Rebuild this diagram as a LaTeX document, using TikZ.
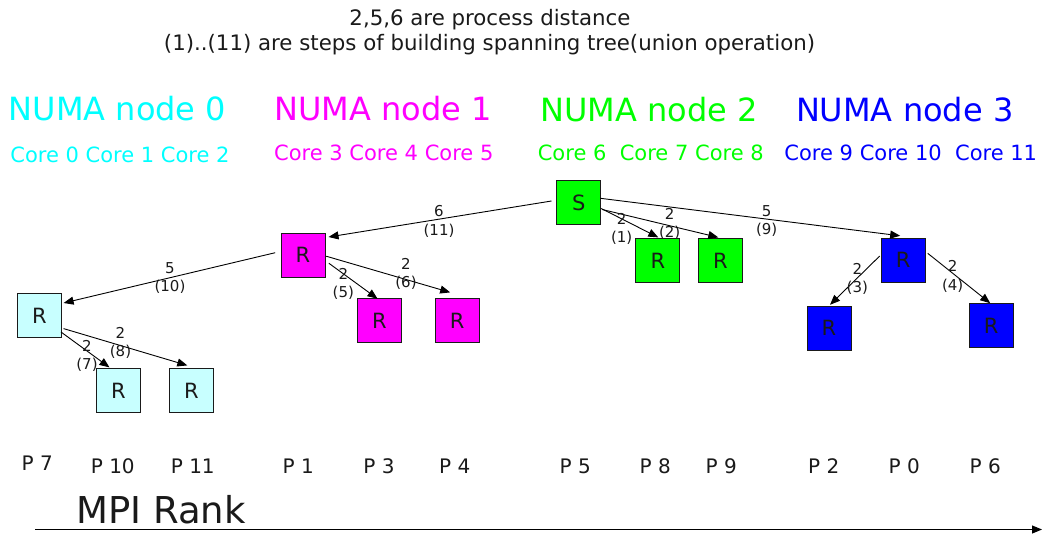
\documentclass[tikz,border=0pt]{standalone}
\usepackage{fontspec}
\setmainfont{DejaVu Sans}
\usetikzlibrary{arrows.meta,calc}
\definecolor{ink}{HTML}{1A1A1A}
\definecolor{numacyan}{HTML}{00FFFF}
\definecolor{numamag}{HTML}{FF00FF}
\definecolor{numagreen}{HTML}{00FF00}
\definecolor{numablue}{HTML}{0000FF}
\definecolor{palecyan}{HTML}{C8FFFF}
\tikzset{
  proc/.style={draw=ink, line width=1pt, minimum width=44pt, minimum height=44pt,
    inner sep=0pt, text=ink, font=\fontsize{21}{25}\selectfont},
  link/.style={draw=black, line width=0.9pt, -{Triangle[length=10pt,width=8pt]}},
  elab/.style={align=center, text=ink, font=\fontsize{15}{18.4}\selectfont, inner sep=0pt},
  title/.style={anchor=base, text=ink, font=\fontsize{21.3}{25}\selectfont, inner sep=0pt},
  numa/.style={anchor=base, font=\fontsize{32}{38}\selectfont, inner sep=0pt},
  cores/.style={anchor=base, font=\fontsize{21}{25}\selectfont, inner sep=0pt},
  rank/.style={anchor=base, text=ink, font=\fontsize{20}{24}\selectfont, inner sep=0pt},
}
\begin{document}
\begin{tikzpicture}[x=1pt, y=-1pt]
\useasboundingbox (0,0) rectangle (1043,535);

% legend
\node[title] (t1) at (490,26) {2,5,6 are process distance};
\node[title] (t2) at (489.5,50.7) {(1)..(11) are steps of building spanning tree(union operation)};

% NUMA node headings and their cores
\node[numa, text=numacyan]  (n0) at (117.5,120)   {NUMA node 0};
\node[numa, text=numamag]   (n1) at (383,120)     {NUMA node 1};
\node[numa, text=numagreen] (n2) at (649,121.7)   {NUMA node 2};
\node[numa, text=numablue]  (n3) at (904.7,121.7) {NUMA node 3};

\node[cores, text=numacyan]  (k0) at (120,162.7) {Core 0 Core 1 Core 2};
\node[cores, text=numamag]   (k1) at (383.8,160) {Core 3 Core 4 Core 5};
\node[cores, text=numagreen] (k2) at (650.8,160) {Core 6\ \ Core 7 Core 8};
\node[cores, text=numablue]  (k3) at (910.8,160) {Core 9 Core 10\ \ Core 11};

% processes
\node[proc, fill=numagreen] (S)  at (578.7,202.5) {S};
\node[proc, fill=numagreen] (g1) at (657.8,260.5) {R};
\node[proc, fill=numagreen] (g2) at (720.3,260.5) {R};
\node[proc, fill=numablue]  (b1) at (903.2,260.3) {R};
\node[proc, fill=numablue]  (b2) at (829,328)     {R};
\node[proc, fill=numablue]  (b3) at (991.2,325.7) {R};
\node[proc, fill=numamag]   (m1) at (303,255.2)   {R};
\node[proc, fill=numamag]   (m2) at (379.5,320.5) {R};
\node[proc, fill=numamag]   (m3) at (457.2,320.5) {R};
\node[proc, fill=palecyan]  (c1) at (39.5,315.5)  {R};
\node[proc, fill=palecyan]  (c2) at (118.5,390.5) {R};
\node[proc, fill=palecyan]  (c3) at (191.3,390.5) {R};

% union steps
\draw[link] ($(S.west)+(-4.7,-1.5)$) -- ($(m1.north east)+(3,4.3)$);
\draw[link] ($(m1.west)+(-5.3,-2.5)$) -- ($(c1.north east)+(1.6,10)$);
\draw[link] ($(m1.east)+(3.3,8)$) -- ($(m2.north)+(-2,0.7)$);
\draw[link] ($(m1.east)+(0.7,1)$) -- ($(m3.north)+(-7,-5.6)$);
\draw[link] ($(c1.south east)+(-1,-6)$) -- ($(c2.north)+(-9,-0.6)$);
\draw[link] ($(c1.south east)+(1.6,-9.4)$) -- ($(c3.north)+(-4,-2.6)$);
\draw[link] ($(S.east)+(0,6)$) -- ($(g1.north)+(0.5,-0.6)$);
\draw[link] ($(S.east)+(1,7)$) -- ($(g2.north)+(-2,-0.6)$);
\draw[link] ($(S.east)+(-0.7,-4.2)$) -- ($(b1.north)+(-3,-2)$);
\draw[link] ($(b1.west)+(-1,-4.3)$) -- ($(b2.north)+(1,-0.7)$);
\draw[link] ($(b1.east)+(2,-7)$) -- ($(b3.north)+(-1,0)$);

% distance / step labels
\node[elab] (e11) at (439,221.5)   {6\\(11)};
\node[elab] (e10) at (170,278.3)   {5\\(10)};
\node[elab] (e5)  at (343.3,284.2) {2\\(5)};
\node[elab] (e6)  at (406,274.2)   {2\\(6)};
\node[elab] (e7)  at (87,355.7)    {2\\(7)};
\node[elab] (e8)  at (120.5,343.2) {2\\(8)};
\node[elab] (e1)  at (621.7,229.2) {2\\(1)};
\node[elab] (e2)  at (669.7,223.8) {2\\(2)};
\node[elab] (e9)  at (766.7,220.8) {5\\(9)};
\node[elab] (e3)  at (857.3,278.8) {2\\(3)};
\node[elab] (e4)  at (952.7,276.3) {2\\(4)};

% MPI ranks
\node[rank] (p7)  at (37.3,470.7)  {P 7};
\node[rank] (p10) at (112.8,473.3) {P 10};
\node[rank] (p11) at (192.8,473.3) {P 11};
\node[rank] (p1)  at (298.3,473.3) {P 1};
\node[rank] (p3)  at (379,473.3)   {P 3};
\node[rank] (p4)  at (454.7,473.3) {P 4};
\node[rank] (p5)  at (575.3,473.3) {P 5};
\node[rank] (p8)  at (655.3,473.3) {P 8};
\node[rank] (p9)  at (721.3,473.3) {P 9};
\node[rank] (p2)  at (823.7,473.3) {P 2};
\node[rank] (p0)  at (904.3,473.3) {P 0};
\node[rank] (p6)  at (985.3,473.3) {P 6};

% rank axis
\node[anchor=base west, text=ink, font=\fontsize{37}{43}\selectfont, inner sep=0pt] (axl) at (76,523.3) {MPI Rank};
\coordinate (axisL) at (35,529.5);
\coordinate (axisR) at (1042,529.5);
\draw[draw=black, line width=1pt, -{Triangle[length=10pt,width=8pt]}] (axisL) -- (axisR);
\end{tikzpicture}
\end{document}
